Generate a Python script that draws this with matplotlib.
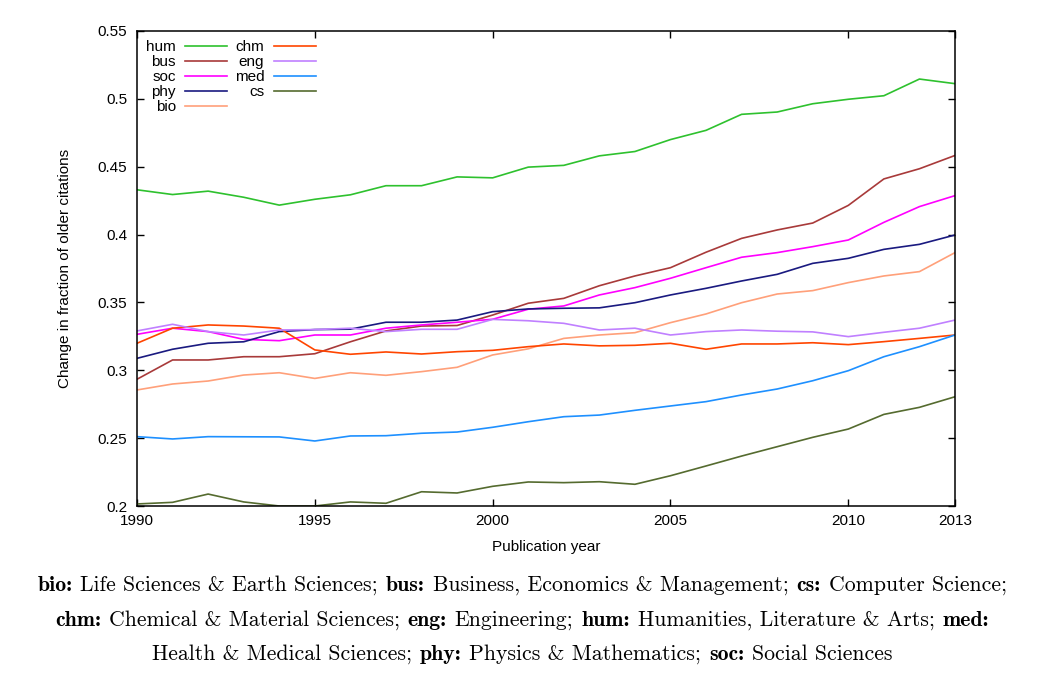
import matplotlib
matplotlib.use('Agg')
import matplotlib.pyplot as plt

years = [1990, 1991, 1992, 1993, 1994, 1995, 1996, 1997, 1998, 1999, 2000, 2001,
         2002, 2003, 2004, 2005, 2006, 2007, 2008, 2009, 2010, 2011, 2012, 2013]

hum = [0.4330, 0.4295, 0.4320, 0.4275, 0.4217, 0.4260, 0.4293, 0.4360, 0.4360, 0.4425, 0.4418, 0.4497,
       0.4510, 0.4580, 0.4612, 0.4700, 0.4768, 0.4886, 0.4903, 0.4964, 0.4997, 0.5023, 0.5146, 0.5112]
bus = [0.2934, 0.3076, 0.3076, 0.3100, 0.3100, 0.3122, 0.3210, 0.3290, 0.3326, 0.3330, 0.3407, 0.3494,
       0.3530, 0.3623, 0.3695, 0.3756, 0.3870, 0.3972, 0.4034, 0.4085, 0.4215, 0.4410, 0.4485, 0.4583]
soc = [0.3265, 0.3310, 0.3285, 0.3228, 0.3218, 0.3260, 0.3260, 0.3310, 0.3334, 0.3354, 0.3376, 0.3450,
       0.3474, 0.3555, 0.3609, 0.3678, 0.3756, 0.3833, 0.3867, 0.3911, 0.3960, 0.4090, 0.4206, 0.4287]
phy = [0.3088, 0.3155, 0.3199, 0.3210, 0.3285, 0.3300, 0.3303, 0.3354, 0.3354, 0.3370, 0.3432, 0.3452,
       0.3457, 0.3460, 0.3498, 0.3555, 0.3604, 0.3658, 0.3707, 0.3788, 0.3825, 0.3891, 0.3928, 0.3997]
bio = [0.2855, 0.2899, 0.2921, 0.2965, 0.2982, 0.2940, 0.2982, 0.2963, 0.2990, 0.3022, 0.3113, 0.3158,
       0.3235, 0.3260, 0.3277, 0.3351, 0.3415, 0.3498, 0.3562, 0.3587, 0.3646, 0.3695, 0.3727, 0.3867]
chm = [0.3199, 0.3310, 0.3334, 0.3326, 0.3310, 0.3150, 0.3118, 0.3135, 0.3120, 0.3137, 0.3147, 0.3174,
       0.3194, 0.3180, 0.3184, 0.3199, 0.3155, 0.3194, 0.3194, 0.3203, 0.3189, 0.3211, 0.3235, 0.3260]
eng = [0.3290, 0.3339, 0.3285, 0.3260, 0.3297, 0.3300, 0.3310, 0.3285, 0.3302, 0.3302, 0.3375, 0.3365,
       0.3346, 0.3297, 0.3310, 0.3260, 0.3285, 0.3297, 0.3288, 0.3283, 0.3248, 0.3280, 0.3310, 0.3370]
med = [0.2511, 0.2494, 0.2511, 0.2510, 0.2509, 0.2479, 0.2516, 0.2518, 0.2536, 0.2545, 0.2580, 0.2621,
       0.2658, 0.2670, 0.2705, 0.2737, 0.2769, 0.2818, 0.2862, 0.2923, 0.2997, 0.3100, 0.3174, 0.3260]
cs = [0.2015, 0.2027, 0.2088, 0.2030, 0.2000, 0.2000, 0.2030, 0.2020, 0.2105, 0.2096, 0.2145, 0.2177,
      0.2172, 0.2179, 0.2160, 0.2223, 0.2295, 0.2368, 0.2437, 0.2506, 0.2567, 0.2675, 0.2727, 0.2805]

names = ['hum', 'bus', 'soc', 'phy', 'bio', 'chm', 'eng', 'med', 'cs']
series = [hum, bus, soc, phy, bio, chm, eng, med, cs]
colors = ['#2ec12e', '#a83a3a', '#ff00ff', '#1a1a80', '#ffa07a',
          '#ff4500', '#c080ff', '#1e90ff', '#556b2f']

xticks = [1990, 1995, 2000, 2005, 2010, 2013]
yticks = [0.2, 0.25, 0.3, 0.35, 0.4, 0.45, 0.5, 0.55]
ytick_labels = ['0.2', '0.25', '0.3', '0.35', '0.4', '0.45', '0.5', '0.55']

caption = [
    [('bio:', True), ('Life Sciences & Earth Sciences;', False), ('bus:', True),
     ('Business, Economics & Management;', False), ('cs:', True), ('Computer Science;', False)],
    [('chm:', True), ('Chemical & Material Sciences;', False), ('eng:', True), ('Engineering;', False),
     ('hum:', True), ('Humanities, Literature & Arts;', False), ('med:', True)],
    [('Health & Medical Sciences;', False), ('phy:', True), ('Physics & Mathematics;', False),
     ('soc:', True), ('Social Sciences', False)],
]

plt.rcParams['font.family'] = ['Liberation Sans', 'DejaVu Sans']

W, H = 1060, 678
fig = plt.figure(figsize=(W / 100, H / 100), dpi=100)
ax = fig.add_axes([137 / W, 1 - 506 / H, (955 - 137) / W, (506 - 31) / H])

for name, vals, c in zip(names, series, colors):
    ax.plot(years, vals, color=c, lw=1.2, label=name)

ax.set_xlim(1990, 2013)
ax.set_ylim(0.2, 0.55)
ax.set_xticks(xticks)
ax.set_yticks(yticks)
ax.set_yticklabels(ytick_labels)
ax.tick_params(direction='in', length=5, width=1, top=True, right=True, labelsize=11)
ax.tick_params(axis='x', pad=6)
ax.tick_params(axis='y', pad=7)
for s in ax.spines.values():
    s.set_linewidth(1.1)

ax.set_xlabel('Publication year', fontsize=11)
ax.set_ylabel('Change in fraction of older citations', fontsize=11)
ax.xaxis.set_label_coords(0.5, -0.072)
ax.yaxis.set_label_coords(-0.08, 0.5)

leg = ax.legend(loc='upper left', bbox_to_anchor=(0.0, 1.0), ncol=2, frameon=False,
                markerfirst=False, fontsize=11, handlelength=2.75, handletextpad=0.6,
                columnspacing=0.5, labelspacing=0.07, borderaxespad=0.4, borderpad=0.2)

# caption under the plot, drawn as runs of regular / bold serif text
fig.canvas.draw()
r = fig.canvas.get_renderer()
size = 15.7
gap = 0.36 * size * fig.dpi / 72
baselines = [591, 626, 660]
cx = 522
for runs, yb in zip(caption, baselines):
    texts = []
    for s, bold in runs:
        t = fig.text(0, 1 - yb / H, s, family='cmb10' if bold else 'cmr10',
                     fontsize=size, va='baseline', ha='left')
        texts.append(t)
    widths = [t.get_window_extent(r).width for t in texts]
    total = sum(widths) + gap * (len(texts) - 1)
    x = cx - total / 2
    for t, w in zip(texts, widths):
        t.set_x(x / W)
        x += w + gap

fig.savefig('out.png', dpi=100)
